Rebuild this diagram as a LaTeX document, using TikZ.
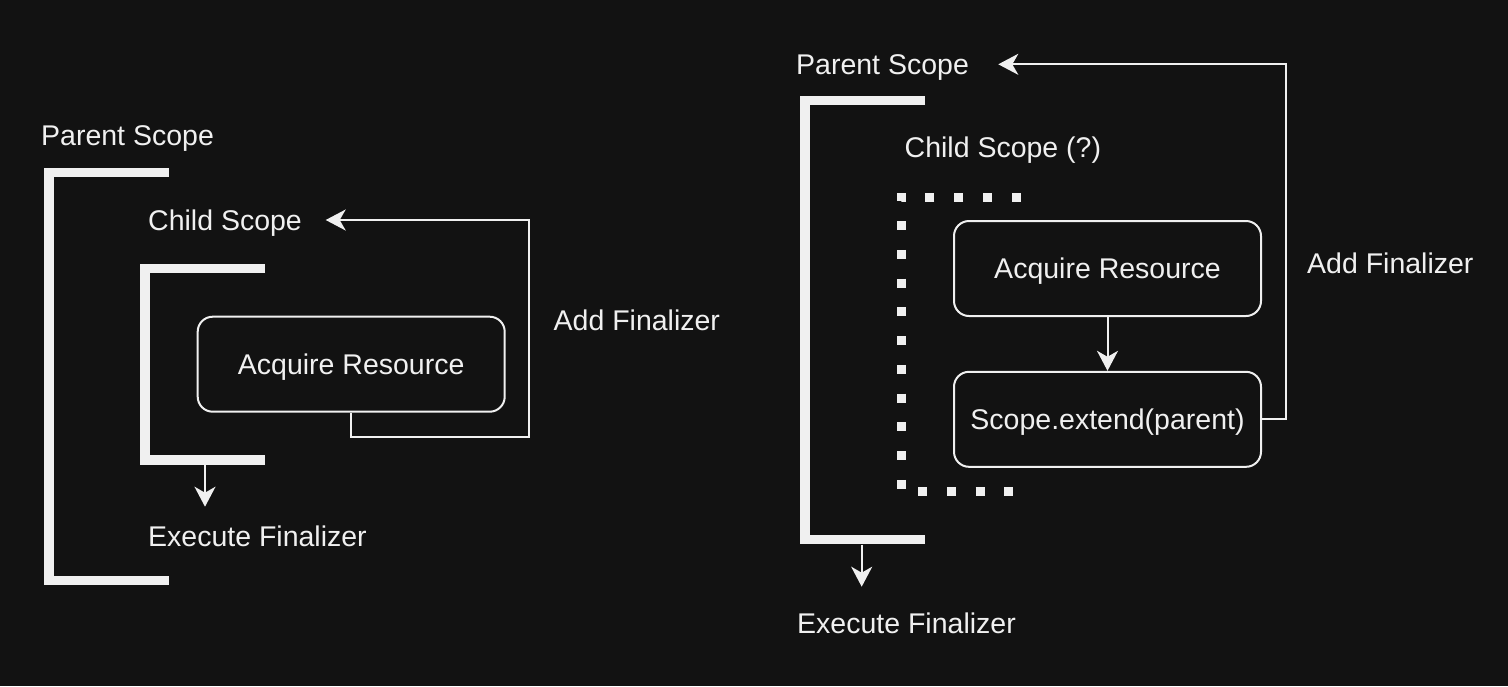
\documentclass[tikz,border=0pt]{standalone}
\usepackage{fontspec}
\setmainfont{Liberation Sans}
\usetikzlibrary{arrows.meta}
\definecolor{bg}{HTML}{121212}
\definecolor{fg}{HTML}{F0F0F0}
\tikzset{
  lbl/.style={anchor=base west, inner sep=0pt, text=fg, font=\fontsize{28.5}{34}\selectfont},
  box/.style={draw=fg, line width=2pt, rounded corners=15pt, text=fg,
    minimum width=307pt, minimum height=95pt, inner sep=0pt,
    text height=20.5pt, text depth=0pt,
    font=\fontsize{28.5}{34}\selectfont},
  bracket/.style={draw=fg, line width=9.5pt, line cap=butt, line join=miter},
  dotbracket/.style={draw=fg, line width=9pt, line cap=butt, line join=miter,
    dash pattern=on 9pt off 19.75pt},
  conn/.style={draw=fg, line width=2pt, -{Stealth[length=20pt,width=21pt,inset=6pt]}},
  link/.style={draw=fg, line width=2pt}
}
\begin{document}
\begin{tikzpicture}[x=1pt,y=-1pt]
\fill[bg] (0,0) rectangle (1508,686);
\useasboundingbox (0,0) rectangle (1508,686);

% ---------- left diagram ----------
\draw[bracket] (168.5,172.5) -- (48.8,172.5) -- (48.8,580.5) -- (168.5,580.5);
\draw[bracket] (265,268.7) -- (144.8,268.7) -- (144.8,460) -- (265,460);

\node[lbl] (pL) at (41,145.7) {Parent Scope};
\node[lbl] (cL) at (148,230) {Child Scope};
\node[lbl] (eL) at (148,546.7) {Execute Finalizer};
\node[lbl] (aL) at (553.5,330) {Add Finalizer};

\node[box] (acqL) at (351.2,364.2) {Acquire Resource};

\coordinate (ctipL) at (325.7,220);
\coordinate (cbotL) at (205,465);
\coordinate (etipL) at (205,506.7);

\draw[conn] (acqL.south) -- ++(0,24) -| (529,220) -- (ctipL);
\draw[conn] (cbotL) -- (etipL);

% ---------- right diagram ----------
\draw[bracket] (925,100.7) -- (805,100.7) -- (805,539.7) -- (925,539.7);
\draw[dotbracket] (1020.7,197) -- (901,197) -- (901,491.5) -- (1013.7,491.5);

\node[lbl] (pR) at (796,74.3) {Parent Scope};
\node[lbl] (cR) at (904.5,157.3) {Child Scope (?)};
\node[lbl] (eR) at (797,633.3) {Execute Finalizer};
\node[lbl] (aR) at (1307,273.3) {Add Finalizer};

\node[box] (acqR) at (1107.5,268.5) {Acquire Resource};
\node[box] (extR) at (1107.5,419.3) {Scope.extend(parent)};

\coordinate (ptipR) at (998.3,64.3);
\coordinate (pbotR) at (861.7,544.5);
\coordinate (etipR) at (861.7,586.7);

\draw[conn] (acqR.south) -- (extR.north);
\draw[conn] (extR.east) -- (1285.7,419.3) -- (1285.7,64.3) -- (ptipR);
\draw[conn] (pbotR) -- (etipR);
\end{tikzpicture}
\end{document}
